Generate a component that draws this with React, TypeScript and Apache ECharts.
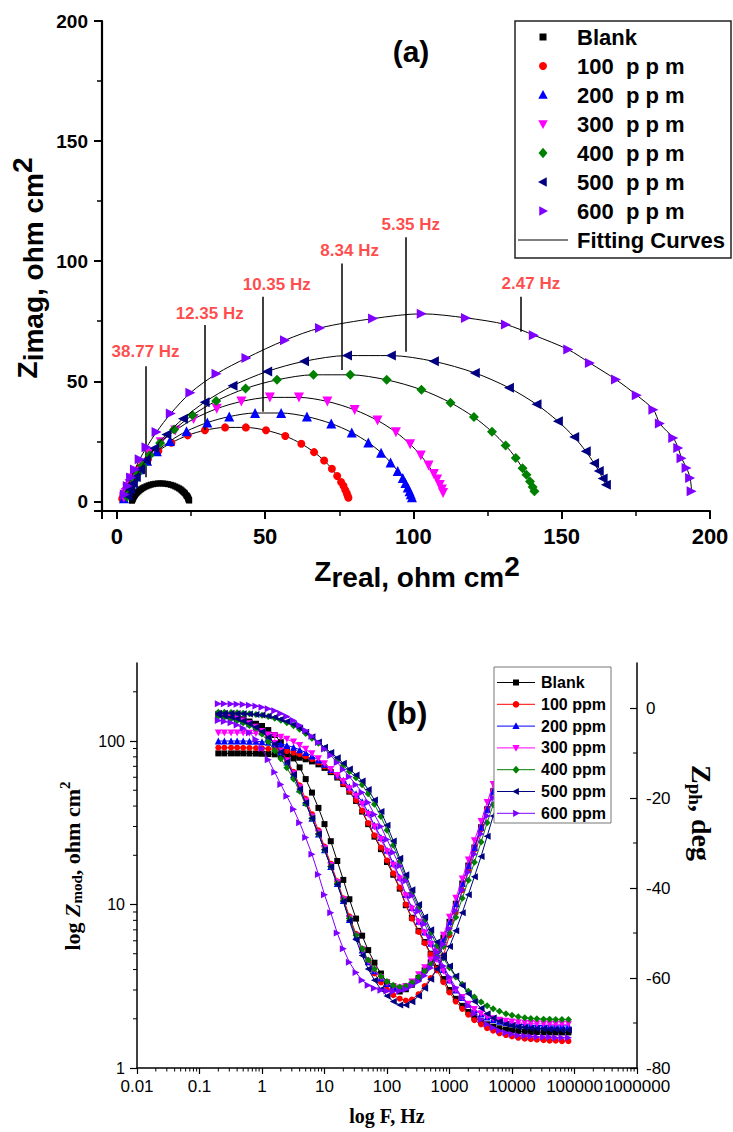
import React, { useEffect, useRef } from "react";
import * as echarts from "echarts";

// ---------------- shared series meta ----------------
const seriesNames = ["Blank", "100 ppm", "200 ppm", "300 ppm", "400 ppm", "500 ppm", "600 ppm"];
const legendLabelsA = ["Blank", "100  p p m", "200  p p m", "300  p p m", "400  p p m", "500  p p m", "600  p p m"];
const fitLabel = "Fitting Curves";
const seriesColors = ["#000000", "#ff0000", "#0000ff", "#ff00ff", "#008000", "#000080", "#8000ff"];
const seriesSymbols = ["rect", "circle", "triangle", "triangle", "diamond", "triangle", "triangle"];
const symbolRotations = [0, 0, 0, 180, 0, 90, -90];

// ---------------- (a) Nyquist data [Zreal, Zimag] ----------------
const nyqBlank = [[24.4,0.35],[24.3,0.6],[24.2,0.84],[24.1,1.17],[24.0,1.57],[23.8,1.96],[23.6,2.3],[23.4,2.6],[23.0,3.3],[22.7,3.7],[22.3,4.1],[21.9,4.55],[21.5,5.0],[21.0,5.4],[20.4,5.8],[19.7,6.2],[19.0,6.6],[18.2,6.9],[17.3,7.16],[16.4,7.35],[15.6,7.46],[14.7,7.5],[13.9,7.46],[13.0,7.35],[12.2,7.16],[11.4,6.95],[10.7,6.65],[10.0,6.3],[9.3,5.9],[8.7,5.5],[8.2,5.08],[7.7,4.65],[7.3,4.23],[6.9,3.8],[6.6,3.43],[6.3,3.05],[6.1,2.71],[5.9,2.4],[5.8,2.11],[5.6,1.64],[5.4,1.25],[5.3,0.93],[5.2,0.6],[5.1,0.27]];
const nyq100 = [[78.1,1.5],[77.8,2.5],[77.5,3.5],[77.0,4.8],[76.4,6.5],[75.6,8.1],[74.3,10.6],[72.5,13.6],[69.9,17.0],[66.5,20.5],[62.2,24.0],[56.8,27.2],[50.3,29.6],[43.5,30.8],[36.5,30.8],[29.7,29.6],[23.9,27.5],[18.4,24.4],[14.0,21.0],[10.5,17.5],[7.9,14.2],[6.0,11.2],[4.7,8.7],[3.8,6.8],[3.1,5.2],[2.6,3.8],[2.2,2.5],[1.8,1.1]];
const nyq200 = [[99.5,1.7],[99.1,3.0],[98.7,4.2],[98.1,5.8],[97.3,7.7],[96.4,9.7],[94.7,12.7],[92.3,16.2],[89.1,20.3],[84.8,24.5],[79.2,28.7],[72.3,32.4],[64.1,35.3],[55.4,36.8],[46.6,36.8],[37.9,35.3],[30.5,32.8],[23.5,29.2],[17.9,25.1],[13.5,20.9],[10.2,16.9],[7.7,13.4],[6.0,10.4],[4.9,8.1],[4.0,6.2],[3.4,4.6],[2.9,3.0],[2.4,1.3]];
const nyq300 = [[110.0,3.5],[109.6,4.9],[108.9,6.8],[108.0,9.1],[106.9,11.4],[105.1,14.9],[102.5,19.1],[98.9,23.8],[94.1,28.8],[87.9,33.7],[80.2,38.1],[71.0,41.6],[61.4,43.3],[51.6,43.3],[42.0,41.6],[33.7,38.6],[25.9,34.3],[19.7,29.5],[14.8,24.6],[11.1,19.9],[8.4,15.7],[6.5,12.3],[5.2,9.5],[4.3,7.2],[3.6,5.4],[3.0,3.5],[2.4,1.6]];
const nyq400 = [[140.8,4.2],[140.2,6.0],[139.3,8.3],[138.1,11.1],[136.8,13.8],[134.5,18.1],[131.1,23.3],[126.5,29.0],[120.4,35.1],[112.5,41.1],[102.7,46.5],[91.0,50.6],[78.7,52.7],[66.3,52.7],[54.0,50.6],[43.4,47.0],[33.5,41.8],[25.5,35.9],[19.3,29.9],[14.6,24.3],[11.1,19.2],[8.7,14.9],[7.1,11.6],[5.9,8.8],[5.0,6.5],[4.2,4.2],[3.5,1.9]];
const nyq500 = [[164.9,6.9],[163.8,9.5],[162.5,12.7],[160.9,15.9],[158.1,20.9],[154.2,26.8],[148.7,33.4],[141.5,40.4],[132.2,47.3],[120.7,53.5],[106.9,58.3],[92.4,60.7],[77.6,60.7],[63.1,58.3],[50.7,54.1],[39.0,48.1],[29.6,41.3],[22.3,34.4],[16.7,27.9],[12.6,22.1],[9.8,17.2],[7.9,13.4],[6.4,10.2],[5.4,7.5],[4.5,4.9],[3.6,2.2]];
const nyq600 = [[193.8,4.2],[193.3,9.7],[192.1,13.9],[190.4,18.0],[189.3,22.2],[187.6,26.4],[183.1,32.4],[180.9,38.2],[175.3,44.2],[168.3,50.7],[159.5,57.6],[152.2,63.2],[140.6,69.2],[131.2,73.6],[117.7,76.4],[102.8,78.1],[86.4,76.1],[68.5,72.2],[56.7,67.1],[43.7,59.7],[33.6,53.1],[24.8,45.2],[18.2,36.6],[13.4,28.9],[10.0,22.5],[7.7,17.5],[6.1,13.3],[4.8,9.9],[3.7,6.4],[2.7,2.9]];
const nyquistData = [nyqBlank, nyq100, nyq200, nyq300, nyq400, nyq500, nyq600];
const nyqSymbolSizes = [6, 8, 10, 10, 10, 10, 10];

// frequency annotations (data coordinates)
const hzLabels = ["38.77 Hz", "12.35 Hz", "10.35 Hz", "8.34 Hz", "5.35 Hz", "2.47 Hz"];
const hzArrowX = [9.7, 29.6, 49.2, 75.8, 97.4, 136.2];
const hzArrowY0 = [10, 29.7, 37.3, 54.7, 62.3, 70.6];
const hzArrowY1 = [56.3, 73.4, 85.2, 99, 110, 85.2];
const hzLabelX = [9.7, 31.3, 53.9, 78.5, 99.1, 139.6];
const hzLabelY = [62.3, 78.3, 90.5, 104.6, 115.4, 90.8];

// ---------------- (b) Bode data ----------------
const freq = [0.2,0.25,0.32,0.4,0.5,0.63,0.8,
  1,1.26,1.6,2,2.5,3.2,4,5,6.3,8,
  10,12.6,16,20,25,32,40,50,63,80,
  100,126,160,200,250,320,400,500,630,800,
  1000,1260,1600,2000,2500,3200,4000,5000,6300,8000,
  10000,12600,16000,20000,25000,32000,40000,50000,63000,80000];

const modBlank = [84,84,84,84,84,83.9,83.8,
  83.6,83.3,82.9,82.3,81.5,80.4,79,77.3,75,72,
  68.5,64.5,59.8,54.5,49,43,37,31,26,21.8,
  18.2,15.2,12.5,9.9,8.3,6.9,5.9,5.0,4.1,3.5,
  3.0,2.65,2.4,2.2,2.05,1.93,1.85,1.79,1.75,1.72,
  1.7,1.68,1.67,1.66,1.66,1.65,1.65,1.65,1.65,1.65];
const mod100 = [91,91,91,91,90.9,90.7,90.5,
  90.2,89.7,89,88,86.8,85,83,80.5,77.5,74,
  70,65.5,60.5,55,49.5,43.5,37.5,31.5,26.5,22.3,
  18.6,15.5,12.7,10,8.2,6.8,5.8,4.95,3.95,3.35,
  2.9,2.55,2.3,2.12,1.96,1.85,1.75,1.69,1.63,1.59,
  1.56,1.53,1.51,1.5,1.49,1.48,1.47,1.47,1.46,1.46];
const mod200 = [100,100,100,100,100,99.8,99.5,
  99,98.3,97.3,96,94,91.5,88.5,85,81,76.5,
  72,67,62,57.5,52.5,47.5,42.5,36.5,30.5,25.7,
  21.5,17.9,14.7,11.5,9.6,7.9,6.8,5.8,4.7,4.0,
  3.45,3.0,2.7,2.45,2.28,2.14,2.05,1.98,1.93,1.9,
  1.87,1.85,1.84,1.83,1.82,1.82,1.81,1.81,1.81,1.81];
const mod300 = [112,112,112,112,111.8,111.5,111,
  110.2,109,107.5,105.5,102.5,98.5,94,89,83.5,78,
  72.5,67,61.5,56.5,51,46,41,35.5,29.8,25,
  21,17.4,14.3,11.3,9.4,7.8,6.7,5.7,4.6,3.9,
  3.4,3.0,2.7,2.45,2.28,2.15,2.06,2.0,1.96,1.93,
  1.91,1.89,1.88,1.87,1.86,1.86,1.85,1.85,1.85,1.85];
const mod400 = [150,150,149.5,149,148,147,145.5,
  143.5,141,138,134,129.5,124,118,111,104,97,
  90,83.5,77,71,65,59.5,54,47.5,41,34.5,
  28.5,23,18.3,14.5,11.8,9.6,8.0,6.7,5.6,4.7,
  4.1,3.6,3.25,2.95,2.72,2.53,2.4,2.3,2.22,2.15,
  2.1,2.06,2.03,2.01,2.0,1.99,1.99,1.98,1.98,1.98];
const mod500 = [148,148,147.8,147.5,147,146.3,145.3,
  144,142,139.5,136,131.5,126,120,113,106,98.5,
  91.5,85,79,73,67.5,62,57,50.5,43.5,37,
  30.5,24.5,19.2,15.2,12.3,10,8.4,7.0,5.9,4.9,
  4.2,3.65,3.2,2.85,2.55,2.32,2.15,2.02,1.93,1.86,
  1.82,1.79,1.77,1.75,1.74,1.73,1.72,1.72,1.71,1.71];
const mod600 = [169,168.8,168.5,168,167,165.5,163.5,
  161,157.5,153,147.5,141,133.5,125,116,107,98,
  89.5,81.5,74,67,60.5,54,48.5,42,35.5,30,
  25,20.8,17.2,13.9,11.3,9.1,7.6,6.3,5.1,4.2,
  3.6,3.1,2.7,2.4,2.15,1.98,1.85,1.76,1.69,1.64,
  1.61,1.58,1.57,1.56,1.55,1.54,1.54,1.53,1.53,1.53];

const phBlank = [-1.3,-1.5,-1.8,-2.1,-2.5,-3.0,-3.5,
  -4.0,-4.9,-6.0,-7.6,-9.3,-11.2,-13.2,-15.8,-18.8,-22.2,
  -25.8,-29.6,-34.0,-38.2,-42.5,-46.8,-50.6,-53.8,-56.6,-59.0,
  -61.0,-62.4,-63.0,-62.5,-61.5,-60.0,-58.3,-56.5,-54.0,-51.0,
  -47.5,-43.5,-39.0,-35.0,-31.0,-26.5,-22.5,-18.5,-14.0,-9.5,
  -5.5,-1.5,3.0,null,null,null,null,null,null,null];
const ph100 = [-1.5,-1.7,-2.0,-2.4,-2.9,-3.5,-4.3,
  -5.2,-6.3,-7.7,-9.4,-11.5,-14.2,-17.2,-20.2,-23.6,-27.2,
  -30.8,-34.6,-38.5,-42.3,-46.3,-50.2,-53.5,-56.5,-59.0,-61.0,
  -62.6,-63.8,-64.6,-65.0,-64.8,-63.6,-61.8,-60.0,-58.0,-55.0,
  -50.5,-45.5,-40.5,-36.0,-31.5,-27.0,-22.5,-18.5,-14.0,-9.5,
  -5.5,-1.5,3.0,null,null,null,null,null,null,null];
const ph200 = [-1.5,-1.7,-2.0,-2.4,-2.9,-3.5,-4.3,
  -5.3,-6.5,-8.0,-9.8,-12.0,-14.8,-18.0,-21.0,-24.5,-28.0,
  -31.5,-35.2,-39.0,-42.8,-47.0,-50.8,-53.8,-56.4,-58.4,-60.0,
  -61.2,-62.0,-62.3,-62.0,-61.0,-59.5,-58.0,-56.5,-54.5,-51.5,
  -47.5,-43.5,-39.0,-35.0,-31.0,-26.5,-22.5,-18.5,-14.0,-9.5,
  -5.5,-1.5,3.0,null,null,null,null,null,null,null];
const ph300 = [-1.5,-1.7,-2.0,-2.4,-2.9,-3.5,-4.3,
  -5.2,-6.4,-7.9,-9.7,-11.8,-14.6,-17.7,-20.7,-24.2,-27.7,
  -31.2,-35.0,-38.8,-42.6,-46.8,-50.6,-53.7,-56.3,-58.3,-59.9,
  -61.1,-61.9,-62.2,-61.9,-60.9,-59.3,-57.7,-56.0,-54.0,-50.5,
  -46.5,-42.3,-38.0,-33.8,-29.5,-25.2,-21.0,-17.0,-12.5,-8.0,
  -4.0,0,4.5,null,null,null,null,null,null,null];
const ph400 = [-1.8,-2.0,-2.4,-2.8,-3.3,-3.9,-4.5,
  -5.8,-7.5,-9.5,-11.3,-13.3,-15.8,-18.5,-21.3,-24.5,-28.0,
  -31.5,-35.2,-39.0,-42.8,-46.8,-50.5,-53.5,-56.0,-58.0,-59.6,
  -60.8,-61.6,-62.0,-61.8,-61.0,-59.8,-58.5,-57.0,-55.3,-53.0,
  -50.0,-46.5,-42.3,-38.3,-34.3,-29.8,-25.5,-21.5,-17.0,-12.5,
  -8.5,-4.5,0,null,null,null,null,null,null,null];
const ph500 = [-1.5,-1.7,-2.0,-2.4,-2.9,-3.5,-4.3,
  -5.3,-6.5,-8.0,-9.8,-12.0,-14.8,-18.0,-21.0,-24.5,-28.0,
  -31.5,-35.3,-39.2,-43.0,-47.3,-51.5,-55.0,-58.0,-60.5,-62.5,
  -64.0,-65.2,-66.0,-66.0,-65.3,-64.0,-62.3,-60.3,-58.0,-55.5,
  -53.0,-49.5,-45.5,-41.5,-37.5,-33.0,-28.5,-24.0,-19.5,-15.0,
  -10.5,-6.0,-1.5,null,null,null,null,null,null,null];
const ph600 = [-2.8,-3.0,-3.3,-3.8,-4.5,-5.5,-7.0,
  -9.0,-11.5,-14.3,-17.0,-19.6,-22.5,-25.5,-28.8,-32.5,-37.0,
  -41.5,-45.5,-50.0,-53.5,-56.5,-58.8,-60.5,-61.6,-62.3,-62.7,
  -62.9,-63.0,-62.9,-62.5,-61.8,-60.8,-59.5,-57.8,-55.5,-52.5,
  -49.0,-45.0,-40.5,-36.5,-32.5,-28.0,-24.0,-20.0,-15.5,-11.0,
  -7.0,-3.0,1.5,null,null,null,null,null,null,null];

const modData = [modBlank, mod100, mod200, mod300, mod400, mod500, mod600];
const phData = [phBlank, ph100, ph200, ph300, ph400, ph500, ph600];

const phaseMinorTicks = [-70, -50, -30, -10];
const modMinorTicks = [2, 3, 4, 5, 6, 7, 8, 9, 20, 30, 40, 50, 60, 70, 80, 90, 200];

// ---------------- styling helpers ----------------
const AR = 'Arial, "Liberation Sans", Helvetica, sans-serif';
const TNR = '"Times New Roman", "Liberation Serif", serif';

function legendMarker(kind: string, rot: number, cx: number, cy: number, r: number, color: string) {
  const z = 102;
  if (kind === "rect") {
    return { type: "rect", z, silent: true, shape: { x: cx - r, y: cy - r, width: 2 * r, height: 2 * r }, style: { fill: color } };
  }
  if (kind === "circle") {
    return { type: "circle", z, silent: true, shape: { cx, cy, r }, style: { fill: color } };
  }
  if (kind === "diamond") {
    return { type: "polygon", z, silent: true, shape: { points: [[cx, cy - r * 1.15], [cx + r, cy], [cx, cy + r * 1.15], [cx - r, cy]] }, style: { fill: color } };
  }
  const a = (rot * Math.PI) / 180;
  const base = [[0, -r], [r * 0.95, r * 0.75], [-r * 0.95, r * 0.75]];
  const pts = base.map(([x, y]) => [cx + x * Math.cos(a) + y * Math.sin(a), cy - x * Math.sin(a) + y * Math.cos(a)]);
  return { type: "polygon", z, silent: true, shape: { points: pts }, style: { fill: color } };
}

function fmtNum(v: number) {
  return String(+Number(v).toPrecision(6));
}

function buildOption() {
  const series: any[] = [];

  // ---- (a) Nyquist with fitting curves ----
  nyquistData.forEach((d, i) => {
    series.push({
      name: seriesNames[i],
      type: "line",
      xAxisIndex: 0,
      yAxisIndex: 0,
      data: d,
      smooth: 0.3,
      showAllSymbol: true,
      symbol: seriesSymbols[i],
      symbolRotate: symbolRotations[i],
      symbolSize: nyqSymbolSizes[i],
      itemStyle: { color: seriesColors[i] },
      lineStyle: { color: "#000", width: 1 },
      z: 3 + i,
      silent: true,
    });
  });

  // frequency labels + arrows
  series.push({
    type: "scatter",
    xAxisIndex: 0,
    yAxisIndex: 0,
    data: hzLabels.map((t, i) => ({ name: t, value: [hzLabelX[i], hzLabelY[i]] })),
    symbolSize: 1,
    itemStyle: { color: "rgba(255,255,255,0)" },
    label: {
      show: true,
      position: "inside",
      formatter: "{b}",
      color: "#ff1a1a",
      fontSize: 17,
      fontWeight: "bold",
      fontFamily: AR,
    },
    markLine: {
      silent: true,
      symbol: ["none", "arrow"],
      symbolSize: [0, 9],
      lineStyle: { color: "#000", width: 1.5, type: "solid" },
      label: { show: false },
      data: hzArrowX.map((x, i) => [{ coord: [x, hzArrowY0[i]] }, { coord: [x, hzArrowY1[i]] }]),
    },
    z: 20,
    silent: true,
  });

  // ---- (b) Bode ----
  modData.forEach((m, i) => {
    series.push({
      name: seriesNames[i] + " |Z|",
      type: "line",
      xAxisIndex: 1,
      yAxisIndex: 1,
      data: freq.map((f, k) => [f, m[k]]),
      showAllSymbol: true,
      symbol: seriesSymbols[i],
      symbolRotate: symbolRotations[i],
      symbolSize: seriesSymbols[i] === "triangle" || seriesSymbols[i] === "diamond" ? 7 : 6,
      itemStyle: { color: seriesColors[i] },
      lineStyle: { color: seriesColors[i], width: 1 },
      z: 3 + i,
      silent: true,
    });
  });
  phData.forEach((p, i) => {
    series.push({
      name: seriesNames[i] + " phase",
      type: "line",
      xAxisIndex: 1,
      yAxisIndex: 2,
      data: freq.map((f, k) => [f, p[k]]),
      showAllSymbol: true,
      connectNulls: false,
      symbol: seriesSymbols[i],
      symbolRotate: symbolRotations[i],
      symbolSize: seriesSymbols[i] === "triangle" || seriesSymbols[i] === "diamond" ? 7 : 6,
      itemStyle: { color: seriesColors[i] },
      lineStyle: { color: seriesColors[i], width: 1 },
      z: 3 + i,
      silent: true,
    });
  });

  // minor ticks for log axes (drawn through the axes' own scales)
  const minorX: number[][] = [];
  [0.01, 0.1, 1, 10, 100, 1000, 10000, 100000].forEach((d) => {
    for (let k = 2; k <= 9; k++) minorX.push([d * k, 1]);
  });
  series.push({
    type: "custom",
    xAxisIndex: 1,
    yAxisIndex: 1,
    clip: false,
    silent: true,
    data: minorX,
    renderItem: (_p: any, api: any) => {
      const pt = api.coord([api.value(0), 1]);
      return { type: "line", shape: { x1: pt[0], y1: pt[1], x2: pt[0], y2: pt[1] + 3.5 }, style: { stroke: "#000", lineWidth: 1 } };
    },
  });
  series.push({
    type: "custom",
    xAxisIndex: 1,
    yAxisIndex: 1,
    clip: false,
    silent: true,
    data: modMinorTicks.map((v) => [0.01, v]),
    renderItem: (_p: any, api: any) => {
      const pt = api.coord([0.01, api.value(1)]);
      return { type: "line", shape: { x1: pt[0] - 4, y1: pt[1], x2: pt[0], y2: pt[1] }, style: { stroke: "#000", lineWidth: 1 } };
    },
  });
  series.push({
    type: "custom",
    xAxisIndex: 1,
    yAxisIndex: 2,
    clip: false,
    silent: true,
    data: phaseMinorTicks.map((v) => [1000000, v]),
    renderItem: (_p: any, api: any) => {
      const pt = api.coord([1000000, api.value(1)]);
      return { type: "line", shape: { x1: pt[0] - 4, y1: pt[1], x2: pt[0], y2: pt[1] }, style: { stroke: "#000", lineWidth: 1 } };
    },
  });

  // ---------------- graphics (titles, legends) ----------------
  const g: any[] = [];
  const boldAr = (size: number) => ({ fontSize: size, fontWeight: "bold", fontFamily: AR, fill: "#000" });

  g.push({ type: "text", z: 100, x: 411, y: 51, style: { text: "(a)", ...boldAr(30), align: "center", verticalAlign: "middle" } });
  g.push({ type: "text", z: 100, x: 407, y: 713, style: { text: "(b)", ...boldAr(32), align: "center", verticalAlign: "middle" } });

  const richA = {
    z: { ...boldAr(28), padding: [0, 0, 12, 0] },
    s: { ...boldAr(28) },
    n: { ...boldAr(28) },
    p: { ...boldAr(28), padding: [0, 0, 22, 0] },
  };
  g.push({ type: "text", z: 100, x: 417, y: 577, style: { text: "{z|Z}{s|real}{n|, ohm cm}{p|2}", rich: richA, ...boldAr(28), align: "center", verticalAlign: "middle" } });
  g.push({ type: "text", z: 100, x: 33, y: 268, rotation: Math.PI / 2, style: { text: "{z|Z}{s|imag}{n|, ohm cm}{p|2}", rich: richA, ...boldAr(28), align: "center", verticalAlign: "middle" } });

  // legend (a)
  g.push({ type: "rect", z: 100, silent: true, shape: { x: 515, y: 21, width: 216, height: 237 }, style: { fill: "#fff", stroke: "#222", lineWidth: 1.5 } });
  const rowA = [37, 66, 95, 124, 153, 182, 211];
  const rA = [3.5, 4, 5, 5, 4.5, 5, 5];
  legendLabelsA.forEach((t, i) => {
    g.push(legendMarker(seriesSymbols[i], symbolRotations[i], 543, rowA[i], rA[i], seriesColors[i]));
    g.push({ type: "text", z: 102, x: 577, y: rowA[i], style: { text: t, ...boldAr(22), align: "left", verticalAlign: "middle" } });
  });
  g.push({ type: "line", z: 102, silent: true, shape: { x1: 518, y1: 240, x2: 568, y2: 240 }, style: { stroke: "#000", lineWidth: 1.2 } });
  g.push({ type: "text", z: 102, x: 577, y: 240, style: { text: fitLabel, ...boldAr(22), align: "left", verticalAlign: "middle" } });

  // (b) titles
  const tnr = (size: number, extra: any = {}) => ({ fontSize: size, fontWeight: "bold", fontFamily: TNR, fill: "#000", ...extra });
  g.push({
    type: "text", z: 100, x: 72, y: 866, rotation: Math.PI / 2,
    style: {
      text: "{a|log }{z|Z}{s|mod}{n|, ohm cm}{p|2}",
      rich: {
        a: tnr(22), z: tnr(22, { fontStyle: "italic" }), s: tnr(15, { padding: [10, 0, 0, 0] }),
        n: tnr(22), p: tnr(15, { padding: [0, 0, 14, 0] }),
      },
      ...tnr(22), align: "center", verticalAlign: "middle",
    },
  });
  g.push({
    type: "text", z: 100, x: 701, y: 813, rotation: -Math.PI / 2,
    style: {
      text: "{z|Z}{s|ph}{n|, deg}",
      rich: { z: tnr(28), s: tnr(19, { padding: [12, 0, 0, 0] }), n: tnr(28) },
      ...tnr(28), align: "center", verticalAlign: "middle",
    },
  });
  g.push({ type: "text", z: 100, x: 387, y: 1116, style: { text: "log F, Hz", ...tnr(20), align: "center", verticalAlign: "middle" } });

  // legend (b)
  g.push({ type: "rect", z: 100, silent: true, shape: { x: 494, y: 667, width: 117, height: 156 }, style: { fill: "#fff", stroke: "#777", lineWidth: 1 } });
  const rB = [3, 3.3, 3.8, 3.8, 3.5, 3.8, 3.8];
  seriesNames.forEach((t, i) => {
    const y = 682.5 + 21.8 * i;
    g.push({ type: "line", z: 101, silent: true, shape: { x1: 497, y1: y, x2: 535, y2: y }, style: { stroke: seriesColors[i], lineWidth: 1 } });
    g.push(legendMarker(seriesSymbols[i], symbolRotations[i], 516, y, rB[i], seriesColors[i]));
    g.push({ type: "text", z: 102, x: 541, y, style: { text: t, ...boldAr(16), align: "left", verticalAlign: "middle" } });
  });

  return {
    animation: false,
    backgroundColor: "#ffffff",
    grid: [
      { left: 102, top: 21, width: 608, height: 490 },
      { left: 137, top: 663, width: 500, height: 405 },
    ],
    xAxis: [
      {
        gridIndex: 0, type: "value", min: -5, max: 200, splitNumber: 4, position: "bottom",
        axisLine: { show: true, onZero: false, lineStyle: { color: "#000", width: 2.2 } },
        axisTick: { show: true, inside: false, length: 8, lineStyle: { color: "#000", width: 2 } },
        minorTick: { show: true, splitNumber: 2, length: 5, lineStyle: { color: "#000", width: 1.5 } },
        splitLine: { show: false },
        minorSplitLine: { show: false },
        axisLabel: { showMinLabel: false, color: "#000", fontSize: 22, fontWeight: "bold", fontFamily: AR, margin: 14 },
      },
      {
        gridIndex: 1, type: "log", logBase: 10, min: 0.01, max: 1000000, splitNumber: 8, position: "bottom",
        axisLine: { show: true, onZero: false, lineStyle: { color: "#000", width: 1.5 } },
        axisTick: { show: true, inside: false, length: 6, lineStyle: { color: "#000", width: 1.2 } },
        splitLine: { show: false },
        axisLabel: { formatter: fmtNum, color: "#000", fontSize: 17, fontFamily: AR, margin: 10 },
      },
    ],
    yAxis: [
      {
        gridIndex: 0, type: "value", min: -4, max: 200, splitNumber: 4, position: "left",
        axisLine: { show: true, onZero: false, lineStyle: { color: "#000", width: 2.2 } },
        axisTick: { show: true, inside: false, length: 8, lineStyle: { color: "#000", width: 2 } },
        minorTick: { show: true, splitNumber: 2, length: 5, lineStyle: { color: "#000", width: 1.5 } },
        splitLine: { show: false },
        minorSplitLine: { show: false },
        axisLabel: { showMinLabel: false, color: "#000", fontSize: 19, fontWeight: "bold", fontFamily: AR, margin: 14 },
      },
      {
        gridIndex: 1, type: "log", logBase: 10, min: 1, max: 300, position: "left",
        axisLine: { show: true, onZero: false, lineStyle: { color: "#000", width: 1.5 } },
        axisTick: { show: true, inside: false, length: 7, lineStyle: { color: "#000", width: 1.2 } },
        splitLine: { show: false },
        axisLabel: { formatter: fmtNum, showMaxLabel: false, color: "#000", fontSize: 16, fontFamily: AR, margin: 12 },
      },
      {
        gridIndex: 1, type: "value", min: -80, max: 10, interval: 20, position: "right",
        axisLine: { show: true, onZero: false, lineStyle: { color: "#000", width: 1.5 } },
        axisTick: { show: true, inside: true, length: 7, lineStyle: { color: "#000", width: 1.2 } },
        splitLine: { show: false },
        axisLabel: { showMaxLabel: false, color: "#000", fontSize: 17, fontFamily: AR, margin: 9 },
      },
    ],
    series,
    graphic: g,
  };
}

export default function App() {
  const ref = useRef<HTMLDivElement>(null);
  useEffect(() => {
    document.body.style.margin = "0";
    const chart = echarts.init(ref.current as HTMLDivElement, undefined, { renderer: "svg" });
    chart.setOption(buildOption() as any);
    return () => chart.dispose();
  }, []);
  return <div ref={ref} style={{ width: 733, height: 1132, background: "#fff" }} />;
}
